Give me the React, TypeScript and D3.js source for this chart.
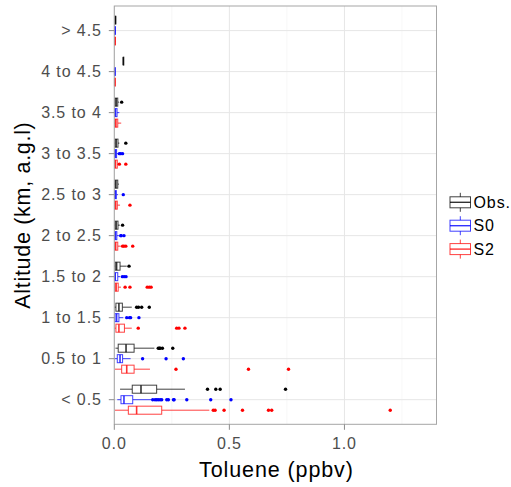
import React from "react";
import * as d3 from "d3";

const categories = ["> 4.5", "4 to 4.5", "3.5 to 4", "3 to 3.5", "2.5 to 3", "2 to 2.5", "1.5 to 2", "1 to 1.5", "0.5 to 1", "< 0.5"];
const seriesNames = ["Obs.", "S0", "S2"];
const seriesColors = ["black", "blue", "red"];
const xTicks = [0, 0.5, 1.0];
const xMinorTicks = [0.25, 0.75, 1.25];

// [lower whisker, q1, median, q3, upper whisker] per category (top to bottom)
const obsStats = [
  [0.004, 0.004, 0.005, 0.006, 0.007],
  [0.039, 0.039, 0.039, 0.039, 0.039],
  [0.002, 0.003, 0.008, 0.015, 0.02],
  [0.001, 0.003, 0.008, 0.016, 0.022],
  [0.001, 0.003, 0.007, 0.015, 0.02],
  [0.001, 0.003, 0.008, 0.016, 0.024],
  [0.001, 0.004, 0.01, 0.025, 0.054],
  [0.001, 0.007, 0.02, 0.035, 0.076],
  [0.005, 0.017, 0.051, 0.086, 0.174],
  [0.025, 0.078, 0.116, 0.184, 0.307],
];
const obsOutliers = [
  [], [], [0.032], [0.05], [], [0.036], [0.064],
  [0.097, 0.105, 0.119, 0.152],
  [0.191, 0.196, 0.199, 0.209, 0.254],
  [0.405, 0.441, 0.46, 0.744],
];
const s0Stats = [
  [0.001, 0.002, 0.003, 0.004, 0.005],
  [0.001, 0.002, 0.002, 0.003, 0.003],
  [0.001, 0.002, 0.005, 0.012, 0.022],
  [0.001, 0.002, 0.005, 0.01, 0.016],
  [0.001, 0.002, 0.004, 0.009, 0.016],
  [0.001, 0.002, 0.005, 0.011, 0.02],
  [0.001, 0.002, 0.004, 0.015, 0.025],
  [0.001, 0.003, 0.01, 0.02, 0.039],
  [0.001, 0.013, 0.025, 0.036, 0.071],
  [0.013, 0.029, 0.042, 0.08, 0.163],
];
const s0Outliers = [
  [], [], [], [0.022, 0.028, 0.036], [0.039], [0.028, 0.03, 0.042],
  [0.035, 0.043, 0.051],
  [0.054, 0.066, 0.071, 0.107],
  [0.123, 0.225, 0.3],
  [0.167, 0.177, 0.184, 0.191, 0.199, 0.206, 0.228, 0.235, 0.257, 0.26, 0.315, 0.419, 0.507],
];
const s2Stats = [
  [0.001, 0.002, 0.003, 0.004, 0.006],
  [0.001, 0.002, 0.002, 0.003, 0.004],
  [0.001, 0.003, 0.007, 0.015, 0.03],
  [0.001, 0.002, 0.005, 0.013, 0.018],
  [0.001, 0.002, 0.006, 0.013, 0.025],
  [0.001, 0.002, 0.006, 0.015, 0.028],
  [0.001, 0.003, 0.008, 0.017, 0.029],
  [0.001, 0.007, 0.02, 0.044, 0.076],
  [0.003, 0.032, 0.054, 0.086, 0.155],
  [0.003, 0.061, 0.097, 0.206, 0.413],
];
const s2Outliers = [
  [], [], [], [0.022, 0.05], [0.068], [0.036, 0.042, 0.05, 0.08],
  [0.047, 0.068, 0.143, 0.152, 0.16],
  [0.104, 0.271, 0.281, 0.307],
  [0.268, 0.583, 0.757],
  [0.43, 0.438, 0.477, 0.557, 0.67, 0.684, 1.199],
];

const allStats = [obsStats, s0Stats, s2Stats];
const allOutliers = [obsOutliers, s0Outliers, s2Outliers];

const W = 511, H = 487;
const P = { left: 114.3, right: 436.5, top: 6, bottom: 424.3 };
const FONT = "'Liberation Sans', Arial, Helvetica, sans-serif";

export default function App() {
  const x = d3.scaleLinear().domain([0, 1.4]).range([P.left, P.right]);
  const y = d3.scalePoint<string>().domain(categories).range([P.top, P.bottom]).padding(0.6);
  const step = y.step();
  const dodge = step * 0.256;
  const half = step * 0.098;

  return (
    <svg width={W} height={H} style={{ position: "absolute", left: 0, top: 0, background: "white" }}>
      <rect x={0} y={0} width={W} height={H} fill="white" />
      {/* grid */}
      {xMinorTicks.map((t) => (
        <line key={"mn" + t} x1={x(t)} x2={x(t)} y1={P.top} y2={P.bottom} stroke="#F2F2F2" strokeWidth={0.6} />
      ))}
      {xTicks.map((t) => (
        <line key={"mj" + t} x1={x(t)} x2={x(t)} y1={P.top} y2={P.bottom} stroke="#E6E6E6" strokeWidth={1} />
      ))}
      {categories.map((c) => (
        <line key={"gy" + c} x1={P.left} x2={P.right} y1={y(c)} y2={y(c)} stroke="#E6E6E6" strokeWidth={1} />
      ))}
      {/* boxes */}
      {allStats.map((stats, si) => {
        const col = seriesColors[si];
        const off = (si - 1) * dodge;
        return (
          <g key={"s" + si}>
            {stats.map((s, ci) => {
              const cy = (y(categories[ci]) as number) + off;
              const [lo, q1, md, q3, hi] = s;
              return (
                <g key={ci}>
                  <line x1={x(lo)} x2={x(q1)} y1={cy} y2={cy} stroke={col} strokeWidth={1} strokeOpacity={0.75} />
                  <line x1={x(q3)} x2={x(hi)} y1={cy} y2={cy} stroke={col} strokeWidth={1} strokeOpacity={0.75} />
                  <rect x={x(q1)} y={cy - half} width={Math.max(x(q3) - x(q1), 0.5)} height={half * 2} fill="white" stroke={col} strokeWidth={1} strokeOpacity={0.75} />
                  <line x1={x(md)} x2={x(md)} y1={cy - half} y2={cy + half} stroke={col} strokeWidth={1.6} strokeOpacity={0.8} />
                  {allOutliers[si][ci].map((v, k) => (
                    <circle key={k} cx={x(v)} cy={cy} r={1.7} fill={col} />
                  ))}
                </g>
              );
            })}
          </g>
        );
      })}
      {/* panel border */}
      <rect x={P.left} y={P.top} width={P.right - P.left} height={P.bottom - P.top} fill="none" stroke="#A6A6A6" strokeWidth={1} />
      {/* y axis */}
      {categories.map((c) => (
        <g key={"yt" + c}>
          <line x1={P.left - 5.5} x2={P.left} y1={y(c)} y2={y(c)} stroke="#8C8C8C" strokeWidth={1} />
          <text x={P.left - 12.5} y={(y(c) as number) + 5.7} textAnchor="end" fontFamily={FONT} fontSize={16} letterSpacing={0.9} fill="#4D4D4D">{c}</text>
        </g>
      ))}
      {/* x axis */}
      {xTicks.map((t) => (
        <g key={"xt" + t}>
          <line x1={x(t)} x2={x(t)} y1={P.bottom} y2={P.bottom + 5.5} stroke="#8C8C8C" strokeWidth={1} />
          <text x={x(t)} y={449} textAnchor="middle" fontFamily={FONT} fontSize={16} letterSpacing={0.9} fill="#4D4D4D">{d3.format(".1f")(t)}</text>
        </g>
      ))}
      <text x={(P.left + P.right) / 2 + 1} y={476.5} textAnchor="middle" fontFamily={FONT} fontSize={21.5} letterSpacing={0.9} fill="black">Toluene (ppbv)</text>
      <text transform={`translate(29.5, ${(P.top + P.bottom) / 2}) rotate(-90)`} textAnchor="middle" fontFamily={FONT} fontSize={21.5} letterSpacing={0.7} fill="black">Altitude (km, a.g.l)</text>
      {/* legend */}
      {seriesNames.map((n, i) => {
        const cy = 202.3 + i * 23.4;
        const col = seriesColors[i];
        return (
          <g key={"lg" + n}>
            <line x1={460.3} x2={460.3} y1={cy - 9.5} y2={cy + 9.5} stroke={col} strokeWidth={1} strokeOpacity={0.75} />
            <rect x={450} y={cy - 5.5} width={20.5} height={11} fill="white" stroke={col} strokeWidth={1} strokeOpacity={0.75} />
            <line x1={450} x2={470.5} y1={cy} y2={cy} stroke={col} strokeWidth={1.4} strokeOpacity={0.8} />
            <text x={473.5} y={cy + 5.7} fontFamily={FONT} fontSize={16} letterSpacing={0.9} fill="black">{n}</text>
          </g>
        );
      })}
    </svg>
  );
}
